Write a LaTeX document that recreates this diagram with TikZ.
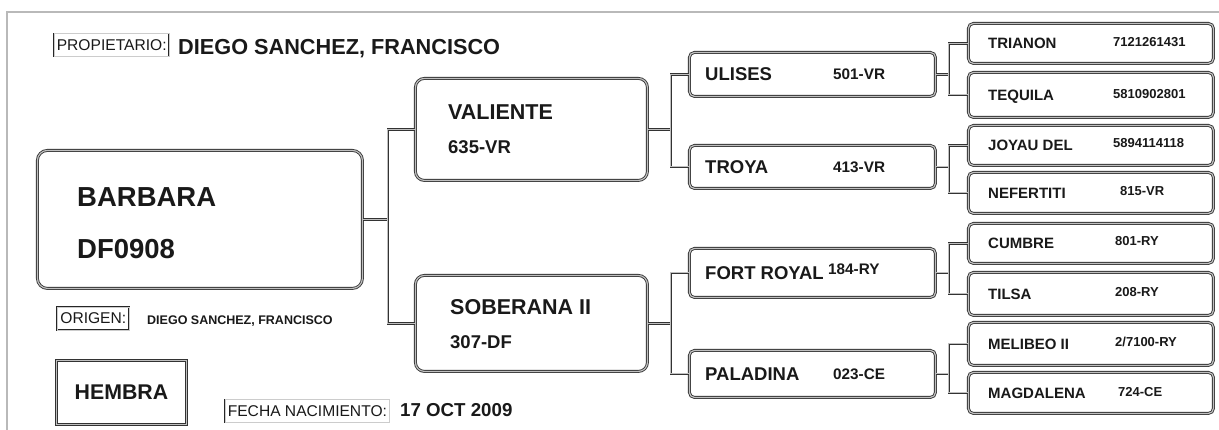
\documentclass[tikz,border=0pt]{standalone}
\usepackage{fontspec}
\setmainfont{Liberation Sans}
\tikzset{
  marco/.style={draw=black!75, line width=0.8pt, double=gray!55, double distance=1.2pt},
  caja/.style={draw=black!80, line width=0.85pt, double=gray!50, double distance=1.2pt, fill=white, rounded corners=5pt, inner sep=0pt, anchor=north west},
  linea/.style={draw=black!80, line width=0.8pt, double=gray!50, double distance=1.1pt},
  etiq/.style={draw=black!85, line width=0.6pt, double=gray!40, double distance=0.5pt, font=\fontsize{15.6}{17}\selectfont, inner xsep=2.5pt, text depth=0pt, minimum height=23pt, anchor=west, text=black!90},
  txt/.style={anchor=west, inner sep=0pt, text depth=0pt, text=black!90},
  n0/.style={txt, font=\bfseries\fontsize{27.5}{30}\selectfont},
  n1/.style={txt, font=\bfseries\fontsize{21.5}{24}\selectfont},
  c1/.style={txt, font=\bfseries\fontsize{18.5}{20}\selectfont},
  n2/.style={txt, font=\bfseries\fontsize{18.5}{20}\selectfont},
  c2/.style={txt, font=\bfseries\fontsize{15.3}{17}\selectfont},
  n3/.style={txt, font=\bfseries\fontsize{15}{17}\selectfont},
  c3/.style={txt, font=\bfseries\fontsize{13}{15}\selectfont}
}
\begin{document}
\begin{tikzpicture}[x=1pt, y=-1pt]
  \useasboundingbox[fill=white] (0,0) rectangle (1219,430);
  \draw[marco] (7,430) -- (7,12) -- (1219,12);
  % cabecera
  \node[etiq] (propietario) at (54,45) {PROPIETARIO:};
  \node[txt, font=\bfseries\fontsize{21.7}{24}\selectfont] (dueno) at (178,46.5) {DIEGO SANCHEZ, FRANCISCO};
  % animal
  \node[caja, rounded corners=10pt, minimum width=325pt, minimum height=138pt] (barbara) at (37,150) {};
  \node[n0] (barbara-n) at ([xshift=40pt, yshift=22pt]barbara.west) {BARBARA};
  \node[n0] (barbara-c) at ([xshift=40pt, yshift=-29pt]barbara.west) {DF0908};
  \node[etiq, minimum width=72pt] (origen) at (57,318.5) {ORIGEN:};
  \node[txt, font=\bfseries\fontsize{12.5}{14}\selectfont] (criador) at (147,320) {DIEGO SANCHEZ, FRANCISCO};
  \node[caja, rounded corners=0pt, minimum width=130pt, minimum height=64pt, font=\bfseries\fontsize{21.3}{24}\selectfont, text depth=0pt, text=black!90] (sexo) at (56,360) {HEMBRA};
  \node[etiq] (fecha) at (225,411) {FECHA NACIMIENTO:};
  \node[txt, font=\bfseries\fontsize{18.7}{20}\selectfont] (fecha-v) at (400,410) {17 OCT 2009};
  % padres
  \node[caja, rounded corners=9pt, minimum width=232pt, minimum height=102pt] (valiente) at (415,78) {};
  \node[n1] (valiente-n) at ([xshift=33pt, yshift=17pt]valiente.west) {VALIENTE};
  \node[c1] (valiente-c) at ([xshift=33pt, yshift=-18pt]valiente.west) {635-VR};
  \node[caja, rounded corners=9pt, minimum width=232pt, minimum height=96pt] (soberana) at (415,275) {};
  \node[n1] (soberana-n) at ([xshift=35pt, yshift=16pt]soberana.west) {SOBERANA II};
  \node[c1] (soberana-c) at ([xshift=35pt, yshift=-19pt]soberana.west) {307-DF};
  % abuelos
  \node[caja, minimum width=246pt, minimum height=44pt] (ulises) at (689,52) {};
  \node[n2] (ulises-n) at ([xshift=16pt]ulises.west) {ULISES};
  \node[c2] (ulises-c) at ([xshift=144pt]ulises.west) {501-VR};
  \node[caja, minimum width=246pt, minimum height=43pt] (troya) at (689,145) {};
  \node[n2] (troya-n) at ([xshift=16pt]troya.west) {TROYA};
  \node[c2] (troya-c) at ([xshift=144pt]troya.west) {413-VR};
  \node[caja, minimum width=246pt, minimum height=49pt] (fortroyal) at (689,248) {};
  \node[n2] (fortroyal-n) at ([xshift=16pt]fortroyal.west) {FORT ROYAL};
  \node[c2] (fortroyal-c) at ([xshift=139pt, yshift=4pt]fortroyal.west) {184-RY};
  \node[caja, minimum width=246pt, minimum height=47pt] (paladina) at (689,350) {};
  \node[n2] (paladina-n) at ([xshift=16pt]paladina.west) {PALADINA};
  \node[c2] (paladina-c) at ([xshift=144pt]paladina.west) {023-CE};
  % bisabuelos
  \node[caja, minimum width=245pt, minimum height=40pt] (trianon) at (968,23) {};
  \node[n3] (trianon-n) at ([xshift=20pt]trianon.west) {TRIANON};
  \node[c3] (trianon-c) at ([xshift=145pt, yshift=1pt]trianon.west) {7121261431};
  \node[caja, minimum width=245pt, minimum height=45pt] (tequila) at (968,72) {};
  \node[n3] (tequila-n) at ([xshift=20pt]tequila.west) {TEQUILA};
  \node[c3] (tequila-c) at ([xshift=145pt, yshift=1pt]tequila.west) {5810902801};
  \node[caja, minimum width=245pt, minimum height=40pt] (joyau) at (968,125) {};
  \node[n3] (joyau-n) at ([xshift=20pt]joyau.west) {JOYAU DEL};
  \node[c3] (joyau-c) at ([xshift=145pt, yshift=2pt]joyau.west) {5894114118};
  \node[caja, minimum width=245pt, minimum height=41pt] (nefertiti) at (968,172) {};
  \node[n3] (nefertiti-n) at ([xshift=20pt]nefertiti.west) {NEFERTITI};
  \node[c3] (nefertiti-c) at ([xshift=152pt, yshift=2pt]nefertiti.west) {815-VR};
  \node[caja, minimum width=245pt, minimum height=40pt] (cumbre) at (968,223) {};
  \node[n3] (cumbre-n) at ([xshift=20pt]cumbre.west) {CUMBRE};
  \node[c3] (cumbre-c) at ([xshift=147pt, yshift=2pt]cumbre.west) {801-RY};
  \node[caja, minimum width=245pt, minimum height=43pt] (tilsa) at (968,272) {};
  \node[n3] (tilsa-n) at ([xshift=20pt]tilsa.west) {TILSA};
  \node[c3] (tilsa-c) at ([xshift=147pt, yshift=2pt]tilsa.west) {208-RY};
  \node[caja, minimum width=245pt, minimum height=43pt] (melibeo) at (968,322) {};
  \node[n3] (melibeo-n) at ([xshift=20pt]melibeo.west) {MELIBEO II};
  \node[c3] (melibeo-c) at ([xshift=147pt, yshift=2pt]melibeo.west) {2/7100-RY};
  \node[caja, minimum width=245pt, minimum height=41pt] (magdalena) at (968,372) {};
  \node[n3] (magdalena-n) at ([xshift=20pt]magdalena.west) {MAGDALENA};
  \node[c3] (magdalena-c) at ([xshift=150pt, yshift=1pt]magdalena.west) {724-CE};
  % lineas
  \draw[linea] (barbara.east) -- ++(25,0) coordinate (j0);
  \draw[linea] (valiente.west) -| (j0) |- (soberana.west);
  \draw[linea] (valiente.east) -- ++(23,0) coordinate (j1);
  \draw[linea] (ulises.west) -| (j1) |- (troya.west);
  \draw[linea] (soberana.east) -- ++(23,0) coordinate (j2);
  \draw[linea] (fortroyal.west) -| (j2) |- (paladina.west);
  \draw[linea] (ulises.east) -- ++(13,0) coordinate (j3);
  \draw[linea] (trianon.west) -| (j3) |- (tequila.west);
  \draw[linea] (troya.east) -- ++(13,0) coordinate (j4);
  \draw[linea] (joyau.west) -| (j4) |- (nefertiti.west);
  \draw[linea] (fortroyal.east) -- ++(13,0) coordinate (j5);
  \draw[linea] (cumbre.west) -| (j5) |- (tilsa.west);
  \draw[linea] (paladina.east) -- ++(13,0) coordinate (j6);
  \draw[linea] (melibeo.west) -| (j6) |- (magdalena.west);
\end{tikzpicture}
\end{document}
